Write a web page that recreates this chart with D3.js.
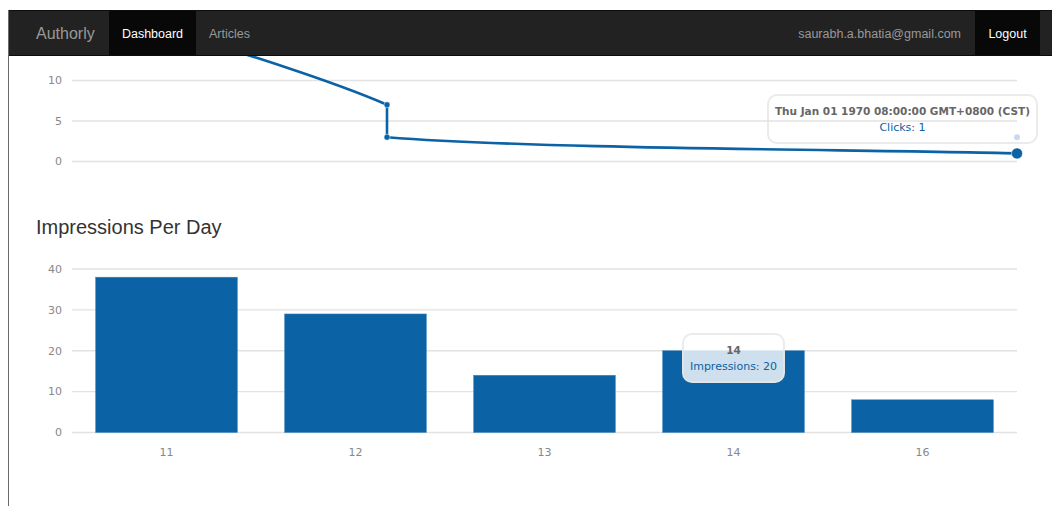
<!DOCTYPE html>
<meta charset="utf-8">
<style>
body { margin: 0; background: #fff; font-family: "Liberation Sans", Arial, sans-serif; overflow: hidden; }
.topcover { position: absolute; left: 0; top: 0; width: 1052px; height: 10px; background: #fff; z-index: 9; }
.frame { position: absolute; left: 8px; top: 10px; width: 1px; height: 496px; background: #6a6a6a; z-index: 8; }
.navbar { position: absolute; left: 9px; top: 10px; width: 1043px; height: 44px; background: #222;
  border-top: 1px solid #0d0d0d; border-bottom: 1px solid #0d0d0d; z-index: 7; }
.navbar span { position: absolute; top: 0; height: 44px; line-height: 46px; font-size: 12.5px; color: #999; white-space: nowrap; }
.navbar .brand { left: 27px; font-size: 16px; }
.navbar .active { background: #080808; color: #fff; text-align: center; }
#chart { position: absolute; left: 0; top: 0; z-index: 1; }
.hover { position: absolute; z-index: 3; border-radius: 10px; padding: 6px 6px; color: #666;
  background: rgba(255,255,255,0.8); border: solid 2px rgba(230,230,230,0.8);
  font-family: "DejaVu Sans", sans-serif; font-size: 10.5px; line-height: 16px; text-align: center; white-space: nowrap; }
.hover .label { font-weight: bold; margin: 1px 0 1px 0; }
.hover .point { color: #0b62a4; margin: 0; font-size: 11px; }
.title { position: absolute; left: 36px; top: 216px; font-size: 20px; color: #333; z-index: 2; }
</style>
<body>
<div class="topcover"></div>
<div class="frame"></div>
<div class="navbar">
  <span class="brand">Authorly</span>
  <span class="active" style="left:100px;width:87px;">Dashboard</span>
  <span style="left:200px;">Articles</span>
  <span style="right:91px;">saurabh.a.bhatia@gmail.com</span>
  <span class="active" style="right:12px;width:65px;">Logout</span>
</div>
<div class="title">Impressions Per Day</div>
<div id="wrap"></div>
<script src="https://d3js.org/d3.v7.min.js"></script>
<script>
// clicks (line chart, top of page is scrolled under the navbar)
var clickX = [0, 1, 1, 3];
var clickValues = [20, 7, 3, 1];
var clickTicks = [0, 5, 10, 15, 20];
var clickHoverIndex = 3;
var clickHoverLabel = "Thu Jan 01 1970 08:00:00 GMT+0800 (CST)";
var clickGhostValue = 3;

// impressions per day (bar chart)
var dayLabels = ["11", "12", "13", "14", "16"];
var impressions = [38, 29, 14, 20, 8];
var impressionTicks = [0, 10, 20, 30, 40];
var barHoverIndex = 3;

var blue = "#0b62a4";
var navBottom = 55;

var svg = d3.select("#wrap").append("svg")
  .attr("id", "chart")
  .attr("width", 1052)
  .attr("height", 506);

var x1 = d3.scaleLinear().domain([0, 3]).range([72, 1017]);
var y1 = d3.scaleLinear().domain([0, 20]).range([161.5, -0.5]);

var x2 = d3.scaleBand().domain(dayLabels).range([72, 1017])
  .paddingInner(0.25).paddingOuter(0.125);
var y2 = d3.scaleLinear().domain([0, 40]).range([432.5, 269]);

function grid(g, y, ticks) {
  // anything scrolled under the navbar is not visible, skip it
  ticks = ticks.filter(function(d) { return y(d) > navBottom; });
  g.selectAll("line.grid").data(ticks).enter().append("line")
    .attr("x1", 72).attr("x2", 1017)
    .attr("y1", function(d) { return y(d); })
    .attr("y2", function(d) { return y(d); })
    .attr("stroke", "#e2e2e2")
    .attr("stroke-width", 1.3);
  g.selectAll("text.tick").data(ticks).enter().append("text")
    .attr("x", 62)
    .attr("y", function(d) { return y(d); })
    .attr("dy", "0.35em")
    .attr("text-anchor", "end")
    .attr("font-family", "DejaVu Sans, sans-serif")
    .attr("font-size", "11px")
    .attr("fill", "#888")
    .text(function(d) { return d; });
}

// smooth path the same way morris does it
function smoothPath(pts) {
  var grad = function(a, b) { return (a[1] - b[1]) / (a[0] - b[0]); };
  var grads = pts.map(function(p, i) {
    var prev = pts[i - 1], next = pts[i + 1];
    if (prev && next) return grad(prev, next);
    if (prev) return grad(p, prev);
    return grad(p, next);
  });
  var path = d3.path();
  pts.forEach(function(p, i) {
    if (i == 0) { path.moveTo(p[0], p[1]); return; }
    var q = pts[i - 1];
    var ix = (p[0] - q[0]) / 4;
    var g = isFinite(grads[i]) ? grads[i] : 0,
        lg = isFinite(grads[i - 1]) ? grads[i - 1] : 0;
    path.bezierCurveTo(q[0] + ix, q[1] + ix * lg, p[0] - ix, p[1] - ix * g, p[0], p[1]);
  });
  return path.toString();
}

// ---- clicks line chart
var topG = svg.append("g");
grid(topG, y1, clickTicks);

var pts = clickX.map(function(d, i) { return [x1(d), y1(clickValues[i])]; });
topG.append("path")
  .attr("d", smoothPath(pts))
  .attr("fill", "none")
  .attr("stroke", blue)
  .attr("stroke-width", 2.6);

topG.append("circle")
  .attr("cx", x1(clickX[clickHoverIndex]))
  .attr("cy", y1(clickGhostValue))
  .attr("r", 3)
  .attr("fill", "#c6dbef");

topG.selectAll("circle.pt").data(pts).enter().append("circle")
  .attr("cx", function(d) { return d[0]; })
  .attr("cy", function(d) { return d[1]; })
  .attr("r", function(d, i) { return i == clickHoverIndex ? 5.5 : 3; })
  .attr("fill", blue)
  .attr("stroke", "#fff")
  .attr("stroke-width", 0.5);

// ---- impressions bar chart
var botG = svg.append("g");
grid(botG, y2, impressionTicks);

botG.selectAll("rect").data(impressions).enter().append("rect")
  .attr("x", function(d, i) { return x2(dayLabels[i]); })
  .attr("y", function(d) { return y2(d); })
  .attr("width", x2.bandwidth())
  .attr("height", function(d) { return y2(0) - y2(d); })
  .attr("fill", blue)
  .attr("stroke", "#3f83bd")
  .attr("stroke-width", 0.5);

botG.selectAll("text.day").data(dayLabels).enter().append("text")
  .attr("x", function(d) { return x2(d) + x2.bandwidth() / 2; })
  .attr("y", 452)
  .attr("dy", "0.35em")
  .attr("text-anchor", "middle")
  .attr("font-family", "DejaVu Sans, sans-serif")
  .attr("font-size", "11px")
  .attr("fill", "#888")
  .text(function(d) { return d; });

// ---- hover boxes (the top one sits under the svg so the faint dot shows)
var h1 = d3.select("body").append("div").attr("class", "hover").style("z-index", 0);
h1.append("div").attr("class", "label").text(clickHoverLabel);
h1.append("div").attr("class", "point").text("Clicks: " + clickValues[clickHoverIndex]);
var b1 = h1.node().getBoundingClientRect();
h1.style("left", (x1(clickX[clickHoverIndex]) + 21 - b1.width) + "px")
  .style("top", (y1(clickValues[clickHoverIndex]) - b1.height - 9) + "px");

var h2 = d3.select("body").append("div").attr("class", "hover");
h2.append("div").attr("class", "label").text(dayLabels[barHoverIndex]);
h2.append("div").attr("class", "point").text("Impressions: " + impressions[barHoverIndex]);
var b2 = h2.node().getBoundingClientRect();
var cx = x2(dayLabels[barHoverIndex]) + x2.bandwidth() / 2;
h2.style("left", (cx - b2.width / 2) + "px")
  .style("top", (y2(impressions[barHoverIndex]) - 18) + "px");
</script>
</body>
